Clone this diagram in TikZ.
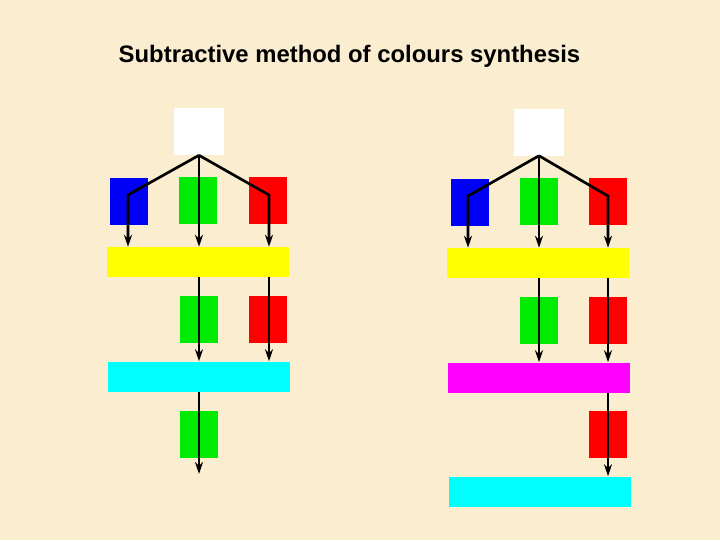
\documentclass[tikz,border=0pt]{standalone}
\usepackage{fontspec}
\newfontfamily\titrefont{Liberation Sans}
\usetikzlibrary{arrows.meta}

\definecolor{fond}{RGB}{250, 237, 208}   % parchemin
\definecolor{bleu}{RGB}{0, 0, 245}
\definecolor{vert}{RGB}{0, 235, 0}
\definecolor{rouge}{RGB}{255, 0, 0}
\definecolor{jaune}{RGB}{255, 255, 0}
\definecolor{cyan}{RGB}{0, 255, 255}
\definecolor{magenta}{RGB}{255, 0, 255}

\tikzset{
  blanc/.style={fill=white, minimum width=37.5pt, minimum height=35.25pt, inner sep=0pt},
  filtre/.style={fill=#1, minimum width=28.5pt, minimum height=35.25pt, inner sep=0pt},
  barre/.style={fill=#1, minimum width=136.5pt, minimum height=22.5pt, inner sep=0pt},
  rayon/.style={line width=2pt, -{Stealth[length=9pt, width=6pt]}}
}

\begin{document}
\begin{tikzpicture}[x=0.75pt, y=-0.75pt]

% Fond
\fill[fond] (0,0) rectangle (720,540);
\useasboundingbox (0,0) rectangle (720,540);

% Titre
\node[anchor=base, font=\titrefont\fontsize{17.9}{20}\selectfont\bfseries] (titre) at (349.5,62)
  {Subtractive method of colours synthesis};

% Synthèse de gauche
\begin{scope}
    % Lumière blanche et filtres
    \node[blanc] (wA) at (199,131.5) {};
    \node[filtre=bleu]  (bA) at (129,201.5) {};
    \node[filtre=vert]  (gA) at (198,200.5) {};
    \node[filtre=rouge] (rA) at (268,200.5) {};
    \node[barre=jaune]  (yA) at (198,262) {};
    \node[filtre=vert]  (gA2) at (199,319.5) {};
    \node[filtre=rouge] (rA2) at (268,319) {};
    \node[barre=cyan]   (cA) at (198.5,376.5) {};
    \node[filtre=vert]  (gA3) at (199,434) {};

    % Coudes et sortie
    \coordinate (kbA) at (128,195);
    \coordinate (krA) at (269,195);
    \coordinate (outA) at (199,474);

    % Rayons
    \draw[rayon] (wA.south) -- (kbA) -- (kbA |- yA.north);
    \draw[rayon] (wA.south) -- (wA.south |- yA.north);
    \draw[rayon] (wA.south) -- (krA) -- (krA |- yA.north);
    \draw[rayon] (wA.south |- yA.south) -- (wA.south |- cA.north);
    \draw[rayon] (krA |- yA.south) -- (krA |- cA.north);
    \draw[rayon] (wA.south |- cA.south) -- (outA);
\end{scope}

% Synthèse de droite
\begin{scope}
    % Lumière blanche et filtres
    \node[blanc] (wB) at (539,132) {};
    \node[filtre=bleu]  (bB) at (470,202.5) {};
    \node[filtre=vert]  (gB) at (538.5,201.5) {};
    \node[filtre=rouge] (rB) at (608,201.5) {};
    \node[barre=jaune]  (yB) at (538,263) {};
    \node[filtre=vert]  (gB2) at (539,320.5) {};
    \node[filtre=rouge] (rB2) at (608,320.5) {};
    \node[barre=magenta] (mB) at (538.5,377.5) {};
    \node[filtre=rouge] (rB3) at (608,434.5) {};
    \node[barre=cyan]   (cB) at (539.5,491.5) {};

    % Coudes
    \coordinate (kbB) at (468,196);
    \coordinate (krB) at (608,196);

    % Rayons
    \draw[rayon] (wB.south) -- (kbB) -- (kbB |- yB.north);
    \draw[rayon] (wB.south) -- (wB.south |- yB.north);
    \draw[rayon] (wB.south) -- (krB) -- (krB |- yB.north);
    \draw[rayon] (wB.south |- yB.south) -- (wB.south |- mB.north);
    \draw[rayon] (krB |- yB.south) -- (krB |- mB.north);
    \draw[rayon] (krB |- mB.south) -- (krB |- cB.north);
\end{scope}

\end{tikzpicture}
\end{document}
